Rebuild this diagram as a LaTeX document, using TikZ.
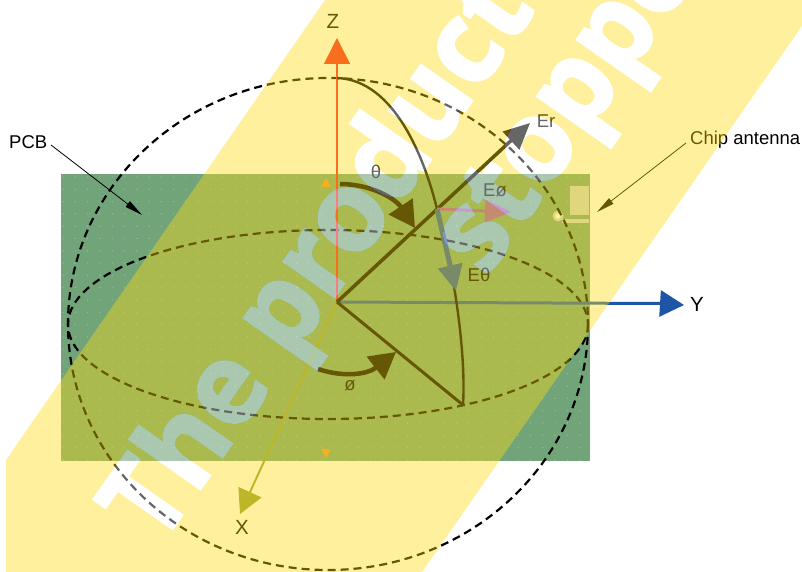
\documentclass[tikz,border=0pt]{standalone}
\usepackage{fontspec}
\setmainfont{Liberation Sans}
\newfontfamily\wmfont[FakeBold=2.2,FakeStretch=0.96]{Open Sans}
\usetikzlibrary{arrows.meta,fadings}
\definecolor{pcbgreen}{HTML}{72A47A}
\definecolor{pcbdot}{HTML}{9DBD9F}
\definecolor{zcol}{HTML}{F52628}
\definecolor{ycol}{HTML}{1F55A5}
\definecolor{xcol}{HTML}{91A03B}
\definecolor{eocol}{HTML}{A055B3}
\definecolor{tricol}{HTML}{F59329}
\definecolor{chipcol}{HTML}{CCD4C7}
\definecolor{bandcol}{HTML}{FFDB0D}
\tikzset{
  x=1pt,y=-1pt,
  lbl/.style={font=\fontsize{18.5}{20}\selectfont,text=black,inner sep=0pt},
  axlbl/.style={font=\fontsize{20.5}{22}\selectfont,text=black,inner sep=0pt},
  dashline/.style={draw=black,line width=2.2pt,dash pattern=on 8pt off 5pt},
  thinarrow/.style={draw=black,line width=0.8pt,-{Triangle[length=18pt,width=7pt]}},
  bigcurve/.style={draw=black,line width=4.5pt,-{Triangle[length=26pt,width=28pt]}},
  wmshape/.style={font=\wmfont\bfseries\fontsize{114}{114}\selectfont,inner sep=0pt,anchor=base west,rotate=55},
}
\begin{tikzfadingfrompicture}[name=wmhole]
\useasboundingbox (0,0) rectangle (802,572);
\fill[pgftransparent!0] (0,0) rectangle (802,572);
\node[wmshape,text=pgftransparent!100] (h1) at (159,548) {The product};
\node[wmshape,text=pgftransparent!100] (h2) at (486,278) {stopped};
\end{tikzfadingfrompicture}
\begin{tikzfadingfrompicture}[name=wmshow]
\useasboundingbox (0,0) rectangle (802,572);
\node[wmshape,text=pgftransparent!0] (s1) at (159,548) {The product};
\node[wmshape,text=pgftransparent!0] (s2) at (486,278) {stopped};
\end{tikzfadingfrompicture}
\begin{document}
\begin{tikzpicture}
\useasboundingbox (0,0) rectangle (802,572);
\fill[white] (0,0) rectangle (802,572);
% PCB
\fill[pcbgreen] (61,174) rectangle (590,461);
\foreach \i in {0,...,42}{\foreach \j in {0,...,23}{
  \fill[pcbdot] ({63+12.3*\i},{177+12.3*\j}) circle (0.7);}}
% chip antenna
\fill[chipcol] (570,186) rectangle (589,215);
\fill[chipcol] (562,219) rectangle (589,223);
\fill[chipcol] (558,216) circle (5.5);
\fill[white] (558,216) circle (2.8);
% coordinates
\coordinate (O) at (337,302);
\coordinate (Ztop) at (337,78);
\coordinate (Ztip) at (337,38);
\coordinate (Ytip) at (684,305);
\coordinate (Xtip) at (240,514);
\coordinate (Ertip) at (530,123);
\coordinate (P) at (437,209);
\coordinate (Q) at (463,405);
\coordinate (Eotip) at (511,212);
\coordinate (Ethtip) at (456,291);
\coordinate (ThA) at (340,184);
\coordinate (ThB) at (415,228);
\coordinate (PhA) at (318,369);
\coordinate (PhB) at (396,352);
% sphere and equator
\draw[dashline] (328,324) ellipse [x radius=260,y radius=246];
\draw[dashline] (328,324.5) ellipse [x radius=260,y radius=94.5];
% axes
\draw[draw=zcol,line width=1.5pt,-{Triangle[length=26pt,width=26pt]}] (O) -- (Ztip);
\draw[draw=ycol,line width=3pt,-{Triangle[length=24pt,width=26pt]}] (O) -- (660,303.5) -- (Ytip);
\draw[draw=xcol,line width=2pt,-{Triangle[length=24pt,width=25pt]}] (O) -- (Xtip);
% vectors
\draw[draw=black,line width=3pt] (O) -- (Q);
\draw[draw=black,line width=2.4pt] (Ztop) .. controls (395,80) and (425,160) .. (P);
\draw[draw=black,line width=2.4pt] (P) .. controls (447,240) and (467,340) .. (Q);
\draw[draw=black,line width=3.5pt,-{Triangle[length=26pt,width=24pt]}] (O) -- (Ertip);
\draw[draw=eocol,line width=3pt,-{Triangle[length=26pt,width=22pt]}] (P) -- (Eotip);
\draw[draw=ycol,line width=5pt,-{Triangle[length=26pt,width=24pt]}] (P) -- (Ethtip);
\draw[bigcurve] (ThA) .. controls (370,184) and (395,198) .. (ThB);
\draw[bigcurve] (PhA) .. controls (345,378) and (368,374) .. (PhB);
% small triangles
\fill[tricol] (326,178) -- (331,187) -- (321,187) -- cycle;
\fill[tricol] (326,458) -- (331,449) -- (321,449) -- cycle;
% labels
\node[axlbl] (zlbl) at (333,21) {Z};
\node[axlbl] (ylbl) at (697,304) {Y};
\node[axlbl] (xlbl) at (242,527) {X};
\node[lbl] (erlbl) at (546,121) {Er};
\node[lbl] (eolbl) at (495,190) {Eø};
\node[lbl] (ethlbl) at (479,275) {Eθ};
\node[lbl] (thlbl) at (376,172) {θ};
\node[lbl] (phlbl) at (350,386) {ø};
\node[lbl,anchor=west] (chiplbl) at (690,140) {Chip antenna};
\node[lbl,anchor=west] (pcblbl) at (9,142) {PCB};
\coordinate (PCBt) at (142,215);
\coordinate (Chipt) at (597,212);
\draw[thinarrow] (51,145) -- (PCBt);
\draw[thinarrow] (686,143) -- (Chipt);
% watermark
\fill[bandcol,fill opacity=.4,path fading=wmhole,fit fading=false,fading transform={shift={(401,286)}}] (6,460) -- (325,0) -- (820,0) -- (422,572) -- (6,572) -- cycle;
\fill[white,fill opacity=.4,path fading=wmshow,fit fading=false,fading transform={shift={(401,286)}}] (0,0) rectangle (802,572);
\end{tikzpicture}
\end{document}
